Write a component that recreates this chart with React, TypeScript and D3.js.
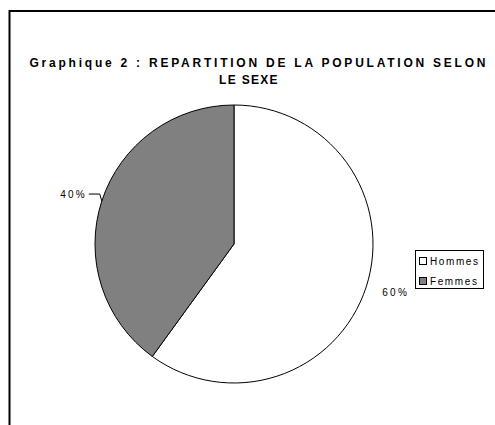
import React, { useEffect, useRef } from 'react';
import * as d3 from 'd3';

// données
const categories = ['Hommes', 'Femmes'];
const values = [60, 40];
const labels = ['60%', '40%'];
const colors = ['#ffffff', '#808080'];

const titleLines = ['Graphique 2 : REPARTITION DE LA POPULATION SELON', 'LE SEXE'];

const App = () => {
  const svgRef = useRef<SVGSVGElement | null>(null);
  const width = 495;
  const height = 425;

  useEffect(() => {
    if (!svgRef.current) return;
    const svg = d3.select(svgRef.current);
    svg.selectAll('*').remove();

    svg.append('rect').attr('width', width).attr('height', height).attr('fill', '#fff');

    // cadre (dépasse à droite et en bas)
    svg.append('rect')
      .attr('x', 9.5).attr('y', 11)
      .attr('width', 600).attr('height', 600)
      .attr('fill', 'none')
      .attr('stroke', '#000')
      .attr('stroke-width', 2);

    // titre
    const titleFont = (sel: any) => sel
      .attr('text-anchor', 'middle')
      .style('font-family', '"Liberation Sans", Arial, sans-serif')
      .style('font-weight', 'bold')
      .style('font-size', '12px')
      .attr('fill', '#000');
    svg.append('text')
      .attr('x', 257.5).attr('y', 67)
      .attr('textLength', 456)
      .attr('lengthAdjust', 'spacing')
      .call(titleFont)
      .text(titleLines[0]);
    svg.append('text')
      .attr('x', 249).attr('y', 84)
      .call(titleFont)
      .style('letter-spacing', '1.3px')
      .text(titleLines[1]);

    const cx = 234;
    const cy = 244;
    const r = 139;

    const pie = d3.pie<number>().sort(null).value(d => d);
    const arcs = pie(values);
    const arc = d3.arc<d3.PieArcDatum<number>>().innerRadius(0).outerRadius(r);

    const g = svg.append('g').attr('transform', `translate(${cx},${cy})`);
    g.selectAll('path')
      .data(arcs)
      .enter()
      .append('path')
      .attr('d', arc)
      .attr('fill', (d, i) => colors[i])
      .attr('stroke', '#000')
      .attr('stroke-width', 1);

    const labelFont = (sel: any) => sel
      .style('font-family', '"Liberation Sans", Arial, sans-serif')
      .style('font-size', '10px')
      .style('letter-spacing', '2.2px')
      .attr('fill', '#000');

    arcs.forEach((d, i) => {
      const mid = (d.startAngle + d.endAngle) / 2;
      const px = Math.sin(mid) * r;
      const py = -Math.cos(mid) * r;
      if (px > 0) {
        const lx = Math.sin(mid) * (r + 17);
        const ly = -Math.cos(mid) * (r + 17);
        g.append('text')
          .attr('x', lx).attr('y', ly + 4)
          .call(labelFont)
          .text(labels[i]);
      } else {
        const p1 = [px - 2, py - 7];
        const p2 = [p1[0] - 11, p1[1]];
        g.append('path')
          .attr('d', `M${px},${py}L${p1[0]},${p1[1]}L${p2[0]},${p2[1]}`)
          .attr('fill', 'none')
          .attr('stroke', '#000')
          .attr('stroke-width', 1);
        g.append('text')
          .attr('x', p2[0] - 2).attr('y', p2[1] + 4)
          .attr('text-anchor', 'end')
          .call(labelFont)
          .text(labels[i]);
      }
    });

    // légende
    const legend = svg.append('g').attr('transform', 'translate(415,250)');
    legend.append('rect')
      .attr('x', 0.5).attr('y', 0.5)
      .attr('width', 68).attr('height', 38)
      .attr('fill', '#fff')
      .attr('stroke', '#000')
      .attr('stroke-width', 1);
    categories.forEach((c, i) => {
      const row = legend.append('g').attr('transform', `translate(0,${7 + i * 20})`);
      row.append('rect')
        .attr('x', 4.5).attr('y', 0.5)
        .attr('width', 7).attr('height', 7)
        .attr('fill', colors[i])
        .attr('stroke', '#000');
      row.append('text')
        .attr('x', 15).attr('y', 8)
        .call(labelFont)
        .style('letter-spacing', '1.6px')
        .text(c);
    });
  }, []);

  return (
    <svg
      ref={svgRef}
      width={width}
      height={height}
      style={{ position: 'absolute', left: 0, top: 0, display: 'block' }}
    />
  );
};

export default App;
